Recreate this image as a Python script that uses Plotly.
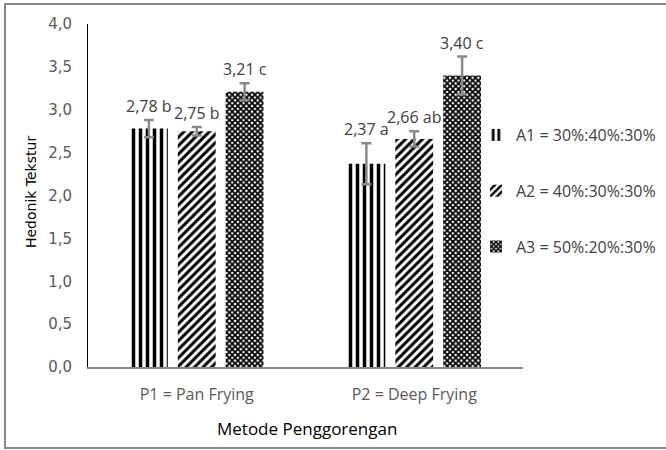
import plotly.graph_objects as go

categories = ["P1 = Pan Frying", "P2 = Deep Frying"]
series_names = ["A1 = 30%:40%:30%", "A2 = 40%:30%:30%", "A3 = 50%:20%:30%"]
a1_values = [2.78, 2.37]
a2_values = [2.75, 2.66]
a3_values = [3.21, 3.40]
a1_err = [0.10, 0.24]
a2_err = [0.05, 0.09]
a3_err = [0.10, 0.22]
a1_labels = ["2,78 b", "2,37 a"]
a2_labels = ["2,75 b", "2,66 ab"]
a3_labels = ["3,21 c", "3,40 c"]
y_ticks = [0, 0.5, 1.0, 1.5, 2.0, 2.5, 3.0, 3.5, 4.0]

values = [a1_values, a2_values, a3_values]
errors = [a1_err, a2_err, a3_err]
labels = [a1_labels, a2_labels, a3_labels]
patterns = [
    dict(shape="|", size=7, solidity=0.5, fgcolor="#000000", bgcolor="#ffffff", fillmode="replace"),
    dict(shape="/", size=6, solidity=0.5, fgcolor="#000000", bgcolor="#ffffff", fillmode="replace"),
    dict(shape="x", size=4, solidity=0.7, fgcolor="#000000", bgcolor="#ffffff", fillmode="replace"),
]

fig = go.Figure()
for i in range(3):
    fig.add_trace(go.Bar(
        x=categories, y=values[i], name=series_names[i],
        legendgroup=f"g{i}",
        marker=dict(color="#ffffff", pattern=patterns[i], line=dict(width=0)),
        error_y=dict(type="data", array=errors[i], visible=True,
                     color="#8a8a8a", thickness=2.5, width=5),
        offsetgroup=str(i),
    ))

n = 3
bargap = 0.34
group_w = 1 - bargap
for i in range(3):
    for j, cat in enumerate(categories):
        xoff = -group_w / 2 + group_w / n * (i + 0.5)
        fig.add_annotation(
            x=j + xoff, y=values[i][j] + errors[i][j], xref="x", yref="y",
            text=labels[i][j], showarrow=False, yanchor="bottom", yshift=1,
            font=dict(family="Open Sans", size=16, color="#404040"),
        )

fig.add_annotation(x=-0.131, y=0.51, xref="paper", yref="paper",
                   xanchor="center", yanchor="middle",
                   text="Hedonik Tekstur", textangle=-90, showarrow=False,
                   font=dict(family="DejaVu Sans", size=14, color="#000000"))
fig.add_annotation(x=0.503, y=-0.178, xref="paper", yref="paper",
                   xanchor="center", yanchor="middle",
                   text="Metode Penggorengan", showarrow=False,
                   font=dict(family="Open Sans", size=17, color="#000000"))

fig.add_shape(type="rect", xref="paper", yref="paper",
              x0=-0.1908, x1=1.338, y0=-0.236, y1=1.058,
              line=dict(color="#898989", width=2), fillcolor="rgba(0,0,0,0)")

fig.update_layout(
    width=666, height=450,
    margin=dict(l=88, r=143, t=24, b=83, autoexpand=False),
    paper_bgcolor="#ffffff", plot_bgcolor="#ffffff",
    barmode="group", bargap=bargap, bargroupgap=0.21,
    separators=",.",
    showlegend=True,
    legend=dict(x=(476 - 88) / 435, y=(367 - 118) / 343, xanchor="left", yanchor="top",
                tracegroupgap=32, bgcolor="rgba(0,0,0,0)",
                font=dict(family="Open Sans", size=16, color="#404040")),
    xaxis=dict(type="category", range=[-0.5, 1.5], showgrid=False,
               showline=True, linecolor="#868686", linewidth=1.5,
               ticks="", ticklabelstandoff=12,
               tickfont=dict(family="Open Sans", size=16, color="#595959")),
    yaxis=dict(range=[0, 4], tickvals=y_ticks, tickformat=".1f", showgrid=False,
               showline=True, linecolor="#000000", linewidth=1, zeroline=False,
               ticks="", ticklabelstandoff=12,
               tickfont=dict(family="DejaVu Sans", size=15, color="#595959")),
)

fig.write_html("out.html")
